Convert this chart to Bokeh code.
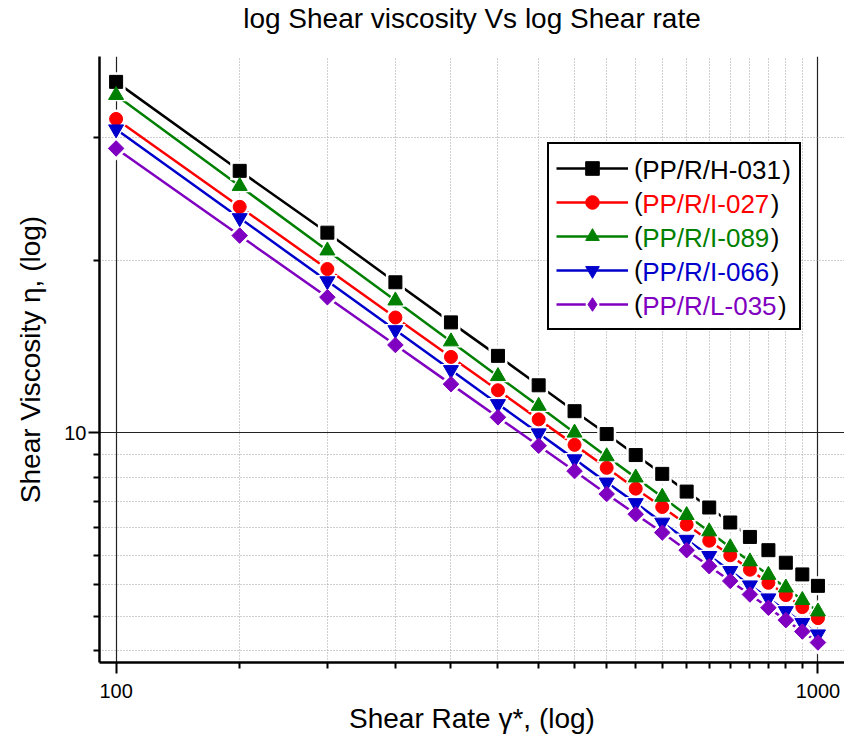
import math
from bokeh.plotting import figure
from bokeh.models import FixedTicker, Legend, LegendItem, Range1d, PrintfTickFormatter, Title
from bokeh.embed import file_html
from bokeh.resources import INLINE

# ---------------- data ----------------
shear_rate = [100, 150, 200, 250, 300, 350, 400, 450, 500, 550,
              600, 650, 700, 750, 800, 850, 900, 950, 1000]
visc_h031 = [22.8, 18.5, 16.0, 14.24, 12.96, 11.98, 11.18, 10.52, 9.97, 9.49,
             9.08, 8.71, 8.39, 8.10, 7.83, 7.59, 7.37, 7.17, 6.98]
visc_i027 = [20.9, 17.0, 14.69, 13.11, 11.95, 11.05, 10.32, 9.72, 9.21, 8.77,
             8.40, 8.06, 7.76, 7.50, 7.25, 7.03, 6.83, 6.64, 6.47]
visc_i089 = [22.1, 17.85, 15.34, 13.64, 12.39, 11.42, 10.65, 10.0, 9.46, 9.00,
             8.60, 8.24, 7.93, 7.64, 7.39, 7.16, 6.95, 6.75, 6.57]
visc_i066 = [20.4, 16.56, 14.28, 12.73, 11.59, 10.70, 9.99, 9.40, 8.90, 8.48,
             8.10, 7.78, 7.49, 7.23, 6.99, 6.78, 6.58, 6.40, 6.23]
visc_l035 = [19.5, 15.89, 13.75, 12.29, 11.21, 10.37, 9.70, 9.14, 8.66, 8.26,
             7.91, 7.59, 7.31, 7.06, 6.84, 6.63, 6.44, 6.27, 6.11]
series_labels = ["PP/R/H-031", "PP/R/I-027", "PP/R/I-089", "PP/R/I-066", "PP/R/L-035"]
x_major_ticks = [100, 1000]
x_minor_ticks = [150, 200, 250, 300, 350, 400, 450, 500, 550, 600,
                 650, 700, 750, 800, 850, 900, 950]
y_major_ticks = [10]
y_minor_ticks = [6, 6.5, 7, 7.5, 8, 8.5, 9, 9.5, 15, 20]
title_text = "log Shear viscosity Vs log Shear rate"

# ---------------- styles ----------------
FONT = "Liberation Sans"
colors = ["#000000", "#ff0000", "#008000", "#0000cc", "#7f00c0"]
markers = ["square", "circle", "triangle", "inverted_triangle", "square"]
legend_markers = ["square", "circle", "triangle", "inverted_triangle", "diamond"]
msizes = [13, 13, 15, 15, 11]
angles = [0, 0, 0, 0, math.pi / 4]
series_vals = [visc_h031, visc_i027, visc_i089, visc_i066, visc_l035]

p = figure(width=844, height=744, x_axis_type="log", y_axis_type="log",
           x_range=Range1d(94.7, 1091), y_range=Range1d(5.83, 24.2),
           output_backend="svg", toolbar_location=None,
           min_border_left=99, min_border_right=0, min_border_top=55,
           min_border_bottom=82, title=None)
p.outline_line_color = None
p.background_fill_color = "white"
p.border_fill_color = "white"

# an empty spacer panel next to the frame, then the real title outside it
spacer = Title(text=" ", text_font=FONT, text_font_size="16px", standoff=4)
p.add_layout(spacer, "above")
main_title = Title(text=title_text, text_font=FONT, text_font_size="28px",
                   text_font_style="normal", text_color="black",
                   align="center", standoff=0)
p.add_layout(main_title, "above")

xt = FixedTicker(ticks=x_major_ticks, minor_ticks=x_minor_ticks)
yt = FixedTicker(ticks=y_major_ticks, minor_ticks=y_minor_ticks)
p.xaxis.ticker = xt
p.yaxis.ticker = yt
p.xgrid.ticker = xt
p.ygrid.ticker = yt

for ax in (p.xaxis[0], p.yaxis[0]):
    ax.formatter = PrintfTickFormatter(format="%d")
    ax.axis_line_width = 2.5
    ax.axis_line_color = "black"
    ax.major_tick_line_width = 2
    ax.minor_tick_line_width = 2
    ax.major_tick_line_color = "black"
    ax.minor_tick_line_color = "black"
    ax.major_tick_in = 0
    ax.major_tick_out = 11
    ax.minor_tick_in = 0
    ax.minor_tick_out = 6
    ax.major_label_text_font = FONT
    ax.major_label_text_font_size = "20px"
    ax.major_label_text_color = "black"
    ax.axis_label_text_font = FONT
    ax.axis_label_text_font_size = "28px"
    ax.axis_label_text_font_style = "normal"
    ax.axis_label_text_color = "black"

p.xaxis.axis_label = "Shear Rate γ*, (log)"
p.yaxis.axis_label = "Shear Viscosity η, (log)"
p.yaxis.major_label_standoff = 2
p.xaxis.major_label_standoff = 10
p.yaxis.axis_label_standoff = 15
p.xaxis.axis_label_standoff = 2

for g in (p.xgrid[0], p.ygrid[0]):
    g.grid_line_color = "#222222"
    g.grid_line_width = 1.2
    g.minor_grid_line_color = "#a0a0a0"
    g.minor_grid_line_width = 1
    g.minor_grid_line_dash = "1 2"

# lines first, then white gaps around markers, then markers
line_r, halo_r, mark_r = [], [], []
for vals, c in zip(series_vals, colors):
    line_r.append(p.line(shear_rate, vals, line_color=c, line_width=2.5))
for vals, m, s, a in zip(series_vals, markers, msizes, angles):
    halo_r.append(p.scatter(shear_rate, vals, marker=m, size=s + 6, angle=a,
                            fill_color="white", line_color=None))
for vals, c, m, s, a, lm in zip(series_vals, colors, markers, msizes, angles, legend_markers):
    if lm != m:
        # narrow diamond hidden inside the rotated square: gives the legend its diamond
        mark_r.append(p.scatter(shear_rate, vals, marker=lm, size=s + 3,
                                fill_color=c, line_color=c, line_width=1))
        p.scatter(shear_rate, vals, marker=m, size=s, angle=a,
                  fill_color=c, line_color=c, line_width=1)
    else:
        mark_r.append(p.scatter(shear_rate, vals, marker=m, size=s, angle=a,
                                fill_color=c, line_color=c, line_width=1))

# ---------------- legend ----------------
ADV = {"(": 333, ")": 333, "P": 667, "R": 722, "/": 278, "H": 722, "I": 278,
       "L": 556, "-": 333}
for d in "0123456789":
    ADV[d] = 556
LFS = 26


def text_w(s):
    return sum(ADV.get(ch, 556) for ch in s) * LFS / 1000.0


LX, LY, PAD, GW, ROWH, STAND = 448, 332, 7, 72, 34, 6
n = len(series_labels)

# main box: swatches and the black opening parentheses
main_items = [LegendItem(label="(", renderers=[line_r[i], halo_r[i], mark_r[i]])
              for i in range(n)]
main = Legend(items=main_items, location=(LX, LY), padding=PAD, spacing=0,
              glyph_width=GW, glyph_height=ROWH, label_height=ROWH,
              label_width=158, label_standoff=STAND, margin=0,
              label_text_font=FONT, label_text_font_size=f"{LFS}px",
              label_text_color="black",
              border_line_color="black", border_line_width=2, border_line_alpha=1,
              background_fill_color="white", background_fill_alpha=1)
p.add_layout(main, "center")

# coloured names and black closing parentheses, one small legend each
x_name = LX + PAD + GW + STAND + text_w("(") + 1.5
for i, (name, c) in enumerate(zip(series_labels, colors)):
    y_row = LY + PAD + ROWH * (n - 1 - i)
    for txt, xx, col in ((name, x_name, c), (")", x_name + text_w(name) + 1.5, "black")):
        lg = Legend(items=[LegendItem(label=txt, renderers=[line_r[i]])],
                    location=(xx, y_row), padding=0, spacing=0, margin=0,
                    glyph_width=0, glyph_height=ROWH, label_height=ROWH,
                    label_standoff=0, label_width=0,
                    label_text_font=FONT, label_text_font_size=f"{LFS}px",
                    label_text_color=col,
                    border_line_color=None, background_fill_alpha=0)
        p.add_layout(lg, "center")

open("out.html", "w").write(file_html(p, INLINE))
